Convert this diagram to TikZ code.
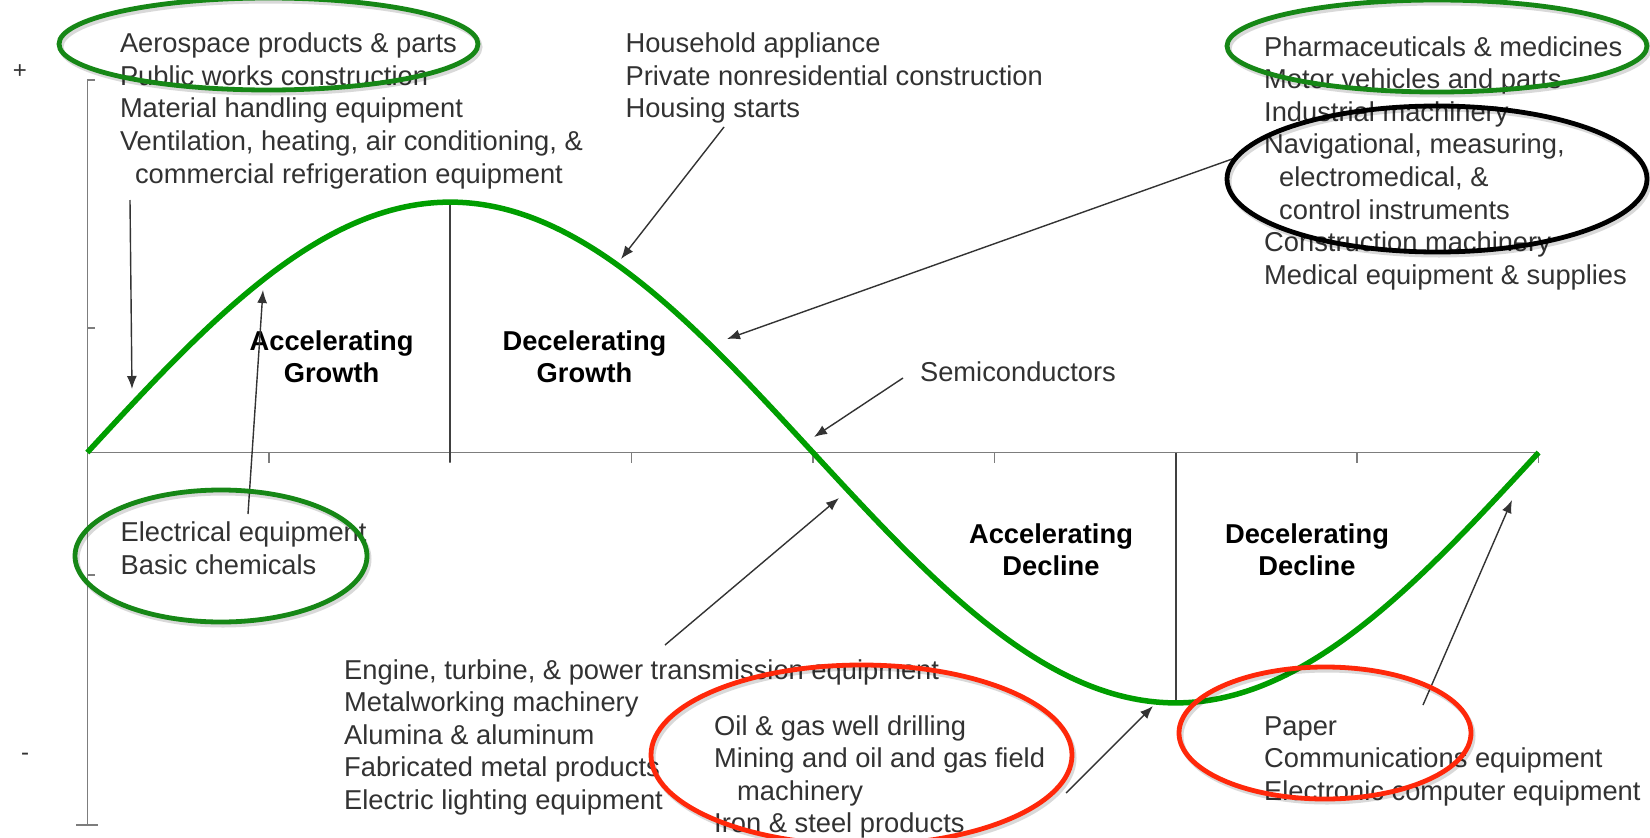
\documentclass[tikz,border=0pt]{standalone}
\usepackage{fontspec}
\setmainfont{Liberation Sans}
\usetikzlibrary{arrows.meta}
\definecolor{curvegreen}{RGB}{0,158,0}
\definecolor{ringgreen}{RGB}{22,135,22}
\definecolor{ringred}{RGB}{255,40,10}
\definecolor{txtgrey}{RGB}{50,50,50}
\definecolor{axisgrey}{RGB}{125,125,125}

\begin{document}
\begin{tikzpicture}[x=1pt,y=-1pt,
  % multi-line nodes sit on the baseline of their last line
  item/.style={font=\fontsize{27.3}{32.6}\selectfont, text=txtgrey, inner sep=0pt, align=left, anchor=base west},
  phase/.style={font=\fontsize{27.3}{32}\selectfont\bfseries, text=black, inner sep=0pt, align=center, anchor=base},
  sign/.style={font=\fontsize{24}{24}\selectfont, text=txtgrey, inner sep=0pt},
  axisline/.style={draw=axisgrey, line width=1.6pt},
  divider/.style={draw=black!75, line width=1.5pt},
  pointer/.style={draw=black!80, line width=1.4pt, -{Latex[length=13pt,width=10pt]}},
  ring/.style={line width=4.8pt},
  ringshadow/.style={line width=5pt, draw=black, opacity=0.15},
  wave/.style={draw=curvegreen, line width=5.5pt}
]
\useasboundingbox (0,0) rectangle (1650,838);
\fill[white] (0,0) rectangle (1650,838);

% axes
\coordinate (O) at (87.3,452.5);
\coordinate (Ytop) at (87.3,80);
\coordinate (Ybot) at (87.3,825);
\coordinate (Xend) at (1538.6,452.5);
\draw[axisline] (Ytop) -- (Ybot);
\draw[axisline] (Ytop) -- ++(8,0);
\draw[axisline] (87.3,328) -- ++(8,0);
\draw[axisline] (87.3,575) -- ++(8,0);
\draw[axisline] (76,825) -- (98,825);
\draw[axisline] (O) -- (Xend);
\foreach \k in {1,...,8} \draw[axisline] (87.3+181.4*\k,452.5) -- ++(0,10);

% phase dividers at peak and trough
\coordinate (peak) at (450.1,202);
\coordinate (trough) at (1176,703);
\draw[divider] (peak) -- (450.1,462);
\draw[divider] (1176,452.5) -- (trough);

% business cycle wave
\draw[wave] plot[domain=0:360, samples=150, smooth] ({87.3+\x/360*1451.3},{452.5-250.4*sin(\x)});

% axis signs
\node[sign] (plus) at (20,72) {+};
\node[sign] (minus) at (25,757) {-};

% phase labels
\node[phase] (ag) at (331.6,382) {Accelerating\\Growth};
\node[phase] (dg) at (584.5,382) {Decelerating\\Growth};
\node[phase] (ad) at (1051,575) {Accelerating\\Decline};
\node[phase] (dd) at (1307,575) {Decelerating\\Decline};

% industry lists
\node[item] (tl) at (119.8,183.1) {Aerospace products \& parts\\Public works construction\\Material handling equipment\\Ventilation, heating, air conditioning, \&\\\hspace*{15pt}commercial refrigeration equipment};
\node[item] (tm) at (625.4,117.9) {Household appliance\\Private nonresidential construction\\Housing starts};
\node[item] (tr) at (1264,284.2) {Pharmaceuticals \& medicines\\Motor vehicles and parts\\Industrial machinery\\Navigational, measuring,\\\hspace*{15pt}electromedical, \&\\\hspace*{15pt}control instruments\\Construction machinery\\Medical equipment \& supplies};
\node[item] (semi) at (919.9,381.7) {Semiconductors};
\node[item] (elec) at (120.5,574.3) {Electrical equipment\\Basic chemicals};
\node[item] (bl) at (344,809.4) {Engine, turbine, \& power transmission equipment\\Metalworking machinery\\Alumina \& aluminum\\Fabricated metal products\\Electric lighting equipment};
\node[item] (bm) at (714,832.8) {Oil \& gas well drilling\\Mining and oil and gas field\\\hspace*{23pt}machinery\\Iron \& steel products};
\node[item] (br) at (1264,800.2) {Paper\\Communications equipment\\Electronic computer equipment};

% pointer ends
\coordinate (a1s) at (130,200);  \coordinate (a1e) at (132,389);
\coordinate (a2s) at (248,514);  \coordinate (a2e) at (263,290);
\coordinate (a3s) at (724,127);  \coordinate (a3e) at (621,259);
\coordinate (a4s) at (1235,158); \coordinate (a4e) at (727,339);
\coordinate (a5s) at (903,378);  \coordinate (a5e) at (814,437);
\coordinate (a6s) at (665,645);  \coordinate (a6e) at (839,498);
\coordinate (a7s) at (1066,793); \coordinate (a7e) at (1153,706);
\coordinate (a8s) at (1423,705); \coordinate (a8e) at (1512,500);
\foreach \n in {1,...,8} \draw[pointer] (a\n s) -- (a\n e);

% highlight rings
\foreach \cx/\cy/\rx/\ry/\col in {
    268.5/44/209.5/46/ringgreen,
    1437/46/210/46/ringgreen,
    1437/179/210/73/black,
    221/556/146/66/ringgreen,
    861.5/755/210.5/90/ringred,
    1325/733/146/66/ringred}{
  \draw[ringshadow] (\cx+2,\cy+3) ellipse [x radius=\rx, y radius=\ry];
  \draw[ring, draw=\col] (\cx,\cy) ellipse [x radius=\rx, y radius=\ry];
}
\end{tikzpicture}
\end{document}
